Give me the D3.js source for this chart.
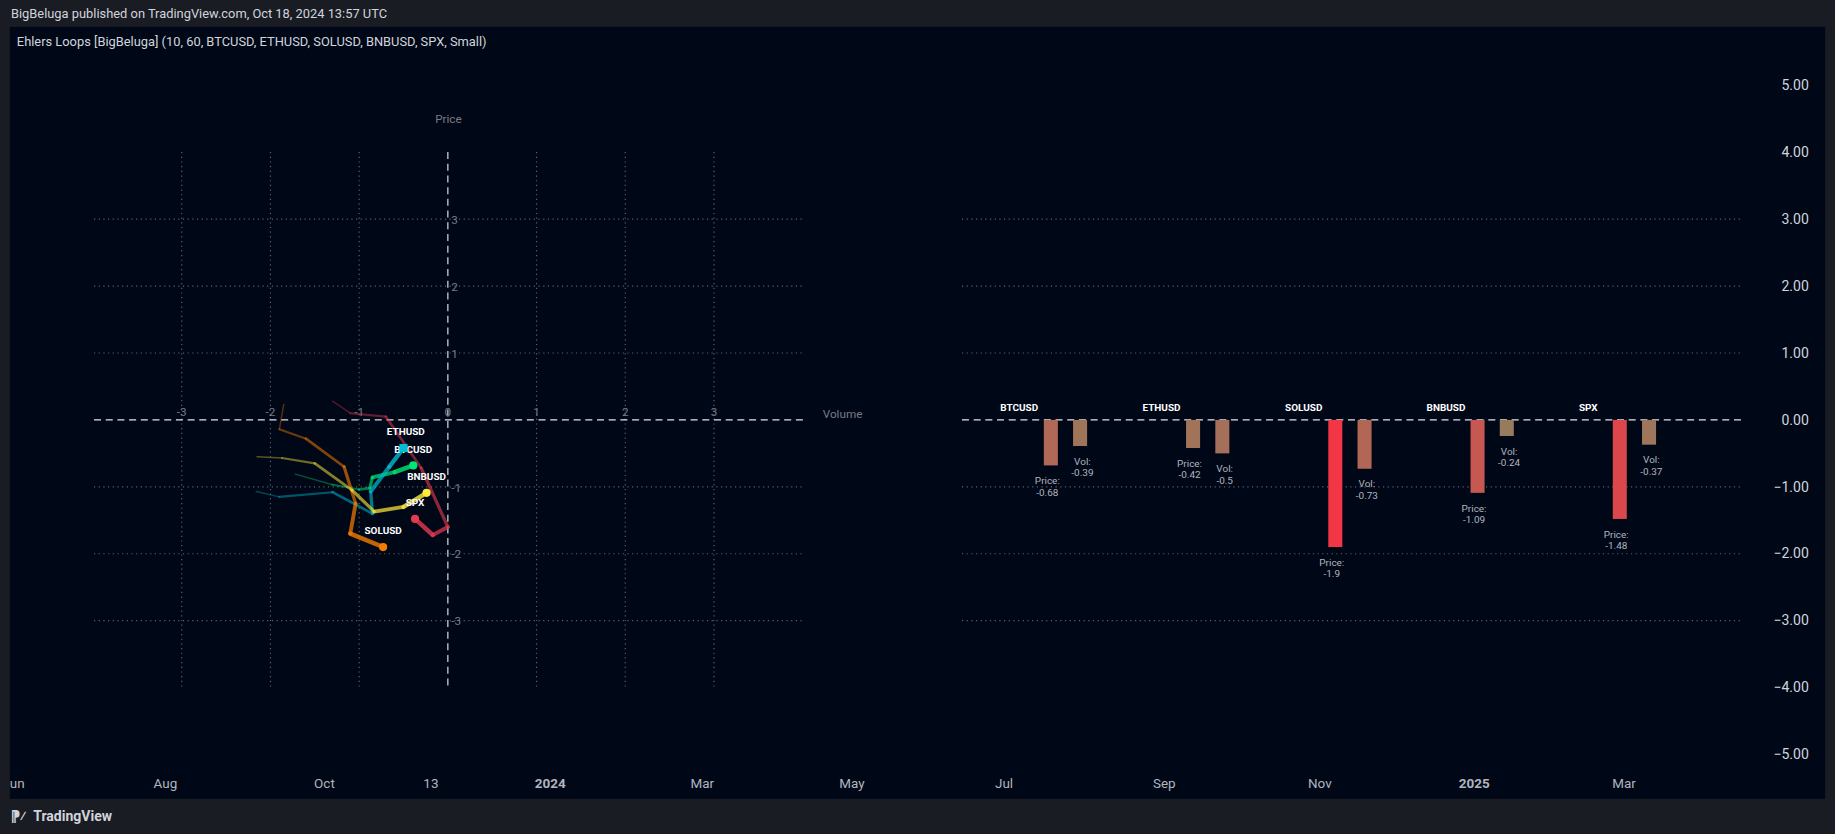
<!DOCTYPE html>
<html><head><meta charset="utf-8">
<script src="https://cdn.jsdelivr.net/npm/d3@7"></script>
<style>body{margin:0;background:#1a1c24;overflow:hidden}svg{display:block;font-family:Roboto,"Liberation Sans",sans-serif}</style>
</head><body>
<svg id="c" width="1835" height="834" viewBox="0 0 1568 713"></svg>
<script>
const symbols = ["BTCUSD","ETHUSD","SOLUSD","BNBUSD","SPX"];
const priceVals = [-0.68,-0.42,-1.9,-1.09,-1.48];
const volVals = [-0.39,-0.5,-0.73,-0.24,-0.37];
const loopColors = ["#00e676","#00bcd4","#f57c00","#ffeb3b","#e53950"];
// trails [volume, price], oldest first, last point = current
const trails = [
  [[-1.72,-0.81],[-1.3,-0.97],[-1.0,-1.04],[-0.88,-1.02],[-0.85,-0.86],[-0.6,-0.78],[-0.39,-0.68]],
  [[-2.16,-1.07],[-1.9,-1.15],[-1.3,-1.08],[-0.85,-1.4],[-0.87,-1.07],[-0.66,-0.7],[-0.5,-0.42]],
  [[-1.85,0.23],[-1.9,-0.14],[-1.6,-0.28],[-1.17,-0.7],[-1.04,-1.25],[-1.1,-1.7],[-0.73,-1.9]],
  [[-2.15,-0.55],[-1.87,-0.57],[-1.5,-0.65],[-1.08,-1.05],[-0.83,-1.37],[-0.5,-1.3],[-0.24,-1.09]],
  [[-1.3,0.28],[-1.1,0.1],[-0.7,0.05],[-0.3,-0.72],[0.0,-1.6],[-0.17,-1.72],[-0.37,-1.48]]
];
const axisTicks = [-3,-2,-1,0,1,2,3];
const priceTicks = [5,4,3,2,1,0,-1,-2,-3,-4,-5];
const timeLabels = [["un",8],["Aug",141],["Oct",277],["13",368],["2024",470],["Mar",600],["May",728],["Jul",858],["Sep",995],["Nov",1128],["2025",1260],["Mar",1388]];

const svg = d3.select("#c");
const txt = "#b2b5be";
svg.append("rect").attr("width",1568).attr("height",713).attr("fill","#1a1c24");
svg.append("rect").attr("x",8).attr("y",23).attr("width",1552).attr("height",660).attr("fill","#000818");
svg.append("text").attr("x",9).attr("y",15).attr("fill","#d1d4dc").attr("font-size",11).text("BigBeluga published on TradingView.com, Oct 18, 2024 13:57 UTC");
svg.append("text").attr("x",14).attr("y",39).attr("fill","#d1d4dc").attr("font-size",11).text("Ehlers Loops [BigBeluga] (10, 60, BTCUSD, ETHUSD, SOLUSD, BNBUSD, SPX, Small)");

const y = d3.scaleLinear().domain([-5,5]).range([645,73]);
const x = d3.scaleLinear().domain([-3,3]).range([155,610]);

// right price axis
svg.append("g").selectAll("text").data(priceTicks).join("text")
 .attr("x",1546).attr("y",d=>y(d)+4).attr("text-anchor","end").attr("fill","#d1d4dc").attr("font-size",12)
 .text(d=>d.toFixed(2).replace("-","−"));

// bottom time labels
svg.append("g").selectAll("text").data(timeLabels).join("text")
 .attr("x",d=>d[1]).attr("y",674).attr("text-anchor",d=>d[1]<20?"start":"middle").attr("fill",txt)
 .attr("font-size",11.5).attr("font-weight",d=>/^\d{4}$/.test(d[0])?"bold":"normal").text(d=>d[0]);
svg.append("text").attr("x",28).attr("y",702).attr("fill","#d1d4dc").attr("font-size",12).attr("font-weight","bold").text("TradingView");
svg.append("text").attr("x",9).attr("y",702).attr("fill","#d1d4dc").attr("font-size",12).attr("font-weight","bold").text("⁋⁄");

// left loop grid
const gl = svg.append("g");
const gridY = [3,2,1,-1,-2,-3];
gl.selectAll(".hy").data(gridY).join("line").attr("x1",80).attr("x2",686).attr("y1",d=>y(d)).attr("y2",d=>y(d))
 .attr("stroke","#5d6170").attr("stroke-dasharray","1,3");
gl.selectAll(".vx").data(axisTicks.filter(d=>d!==0)).join("line").attr("y1",130).attr("y2",590).attr("x1",d=>x(d)).attr("x2",d=>x(d))
 .attr("stroke","#5d6170").attr("stroke-dasharray","1,3");
gl.append("line").attr("x1",80).attr("x2",686).attr("y1",y(0)).attr("y2",y(0)).attr("stroke","#e0e3eb").attr("stroke-dasharray","6,4");
gl.append("line").attr("x1",x(0)).attr("x2",x(0)).attr("y1",130).attr("y2",590).attr("stroke","#e0e3eb").attr("stroke-dasharray","6,4");
gl.selectAll(".xl").data(axisTicks).join("text").attr("x",d=>x(d)).attr("y",y(0)-3).attr("text-anchor","middle")
 .attr("fill","#787b86").attr("font-size",10).text(d=>d);
gl.selectAll(".yl").data(gridY).join("text").attr("x",x(0)+3).attr("y",d=>y(d)+4)
 .attr("fill","#787b86").attr("font-size",10).text(d=>d);
gl.append("text").attr("x",383).attr("y",105).attr("text-anchor","middle").attr("fill","#787b86").attr("font-size",10).text("Price");
gl.append("text").attr("x",703).attr("y",357).attr("fill","#787b86").attr("font-size",10).text("Volume");

// trails
trails.forEach((tr,i)=>{
  for(let k=0;k<tr.length-1;k++){
    const f=(k+1)/(tr.length-1);
    gl.append("line").attr("x1",x(tr[k][0])).attr("y1",y(tr[k][1])).attr("x2",x(tr[k+1][0])).attr("y2",y(tr[k+1][1]))
      .attr("stroke",loopColors[i]).attr("stroke-width",0.8+f*3).attr("stroke-opacity",0.25+f*0.55).attr("stroke-linecap","round");
  }
});
symbols.forEach((s,i)=>{
  const cx=x(volVals[i]), cy=y(priceVals[i]);
  if(i===1) gl.append("rect").attr("x",cx-3.5).attr("y",cy-3.5).attr("width",7).attr("height",7).attr("fill",loopColors[i]);
  else gl.append("circle").attr("cx",cx).attr("cy",cy).attr("r",3.5).attr("fill",loopColors[i]);
  gl.append("text").attr("x",cx+(i===1?2:0)).attr("y",cy-11).attr("text-anchor","middle").attr("fill","#ffffff").attr("font-size",8.5).attr("font-weight","bold").text(s);
});

// right bars panel
const gr = svg.append("g");
gr.selectAll(".h").data(gridY).join("line").attr("x1",822).attr("x2",1490).attr("y1",d=>y(d)).attr("y2",d=>y(d))
 .attr("stroke","#5d6170").attr("stroke-dasharray","1,3");
gr.append("line").attr("x1",822).attr("x2",1490).attr("y1",y(0)).attr("y2",y(0)).attr("stroke","#e0e3eb").attr("stroke-dasharray","6,4");
const band = d3.scaleBand().domain(symbols).range([810,1418]).paddingInner(0);
const col = d3.scaleLinear().domain([0,1.9]).range(["#8a8560","#f23645"]).clamp(true);
symbols.forEach((s,i)=>{
  const b0 = band(s)+61;
  gr.append("text").attr("x",b0).attr("y",351).attr("text-anchor","middle").attr("fill","#ffffff").attr("font-size",8.5).attr("font-weight","bold").text(s);
  [[priceVals[i],"Price:",b0+27],[volVals[i],"Vol:",b0+52]].forEach(([v,lab,cx])=>{
    gr.append("rect").attr("x",cx-6).attr("width",12).attr("y",y(0)).attr("height",y(v)-y(0)).attr("fill",col(Math.abs(v)));
    const t=gr.append("text").attr("text-anchor","middle").attr("fill",txt).attr("font-size",8.5);
    t.append("tspan").attr("x",lab==="Vol:"?cx+2:cx-3).attr("y",y(v)+16).text(lab);
    t.append("tspan").attr("x",lab==="Vol:"?cx+2:cx-3).attr("y",y(v)+26).text(String(v));
  });
});
</script>
</body></html>
